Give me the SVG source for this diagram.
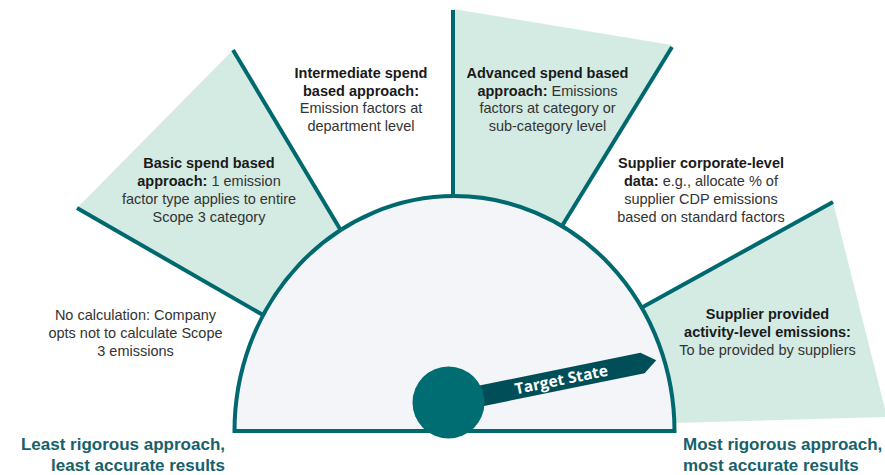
<svg xmlns="http://www.w3.org/2000/svg" width="885" height="475" viewBox="0 0 885 475">
<style>
.wedge{fill:#d4ebe3;stroke:none}
.spoke{stroke:#00696f;stroke-width:4;fill:none;stroke-linecap:butt}
.t{font-family:"Liberation Sans",Arial,sans-serif;font-size:14.5px;fill:#333333;text-anchor:middle}
.b{font-weight:bold;fill:#1a1a1a}
.side{font-family:"Liberation Sans",Arial,sans-serif;font-size:17px;font-weight:bold;fill:#17616a}
</style>
<rect width="885" height="475" fill="#ffffff"/>
<g id="wedges">
<polygon class="wedge" points="77,208 233,50 341,231 454,431 261,313"/>
<polygon class="wedge" points="453,9 672,45 564,223 454,431 453,196"/>
<polygon class="wedge" points="833,202 887,417 674,423 454,431 644,306"/>
</g>
<g id="connectors">
<line class="spoke" x1="77" y1="208" x2="263" y2="315"/>
<line class="spoke" x1="233" y1="50" x2="343" y2="234"/>
<line class="spoke" x1="453" y1="10" x2="453" y2="199"/>
<line class="spoke" x1="672" y1="47" x2="562" y2="226"/>
<line class="spoke" x1="833" y1="202" x2="641" y2="308"/>
</g>
<g id="gauge">
<path d="M234.5 431 A220 235 0 0 1 674.5 431 Z" fill="#f4f5f8" stroke="#00696f" stroke-width="4"/>
</g>
<g id="needle" transform="translate(448.5 402.5) rotate(-11.5)">
<polygon points="0,-10.5 198,-10.5 212,0 198,10.5 0,10.5" fill="#004f58"/>
<text x="115" y="5.5" font-family="'Open Sans',sans-serif" font-size="15.5" font-weight="bold" fill="#ffffff" text-anchor="middle">Target State</text>
</g>
<g id="hub">
<circle cx="448.5" cy="402.5" r="36" fill="#006d72"/>
</g>
<g id="no-calculation">
<text class="t" x="135.5" y="320">No calculation: Company</text>
<text class="t" x="135.5" y="338">opts not to calculate Scope</text>
<text class="t" x="135.5" y="355.5">3 emissions</text>
</g>
<g id="basic-spend">
<text class="t" x="209" y="168"><tspan class="b">Basic spend based</tspan></text>
<text class="t" x="209" y="186"><tspan class="b">approach:</tspan> 1 emission</text>
<text class="t" x="209" y="204">factor type applies to entire</text>
<text class="t" x="209" y="221.5">Scope 3 category</text>
</g>
<g id="intermediate-spend">
<text class="t" x="361" y="78"><tspan class="b">Intermediate spend</tspan></text>
<text class="t" x="361" y="95.7"><tspan class="b">based approach:</tspan></text>
<text class="t" x="361" y="113.4">Emission factors at</text>
<text class="t" x="361" y="131.1">department level</text>
</g>
<g id="advanced-spend">
<text class="t" x="547.5" y="78"><tspan class="b">Advanced spend based</tspan></text>
<text class="t" x="547.5" y="95.7"><tspan class="b">approach:</tspan> Emissions</text>
<text class="t" x="547.5" y="113.4">factors at category or</text>
<text class="t" x="547.5" y="131.1">sub-category level</text>
</g>
<g id="supplier-corporate">
<text class="t" x="701" y="168"><tspan class="b">Supplier corporate-level</tspan></text>
<text class="t" x="701" y="186"><tspan class="b">data:</tspan> e.g., allocate % of</text>
<text class="t" x="701" y="204">supplier CDP emissions</text>
<text class="t" x="701" y="221.5">based on standard factors</text>
</g>
<g id="supplier-activity">
<text class="t" x="767.5" y="319"><tspan class="b">Supplier provided</tspan></text>
<text class="t" x="767.5" y="337"><tspan class="b">activity-level emissions:</tspan></text>
<text class="t" x="767.5" y="355">To be provided by suppliers</text>
</g>
<g id="least-rigorous">
<text class="side" x="225" y="450" text-anchor="end">Least rigorous approach,</text>
<text class="side" x="225" y="471" text-anchor="end">least accurate results</text>
</g>
<g id="most-rigorous">
<text class="side" x="683" y="450">Most rigorous approach,</text>
<text class="side" x="683" y="471">most accurate results</text>
</g>
</svg>
